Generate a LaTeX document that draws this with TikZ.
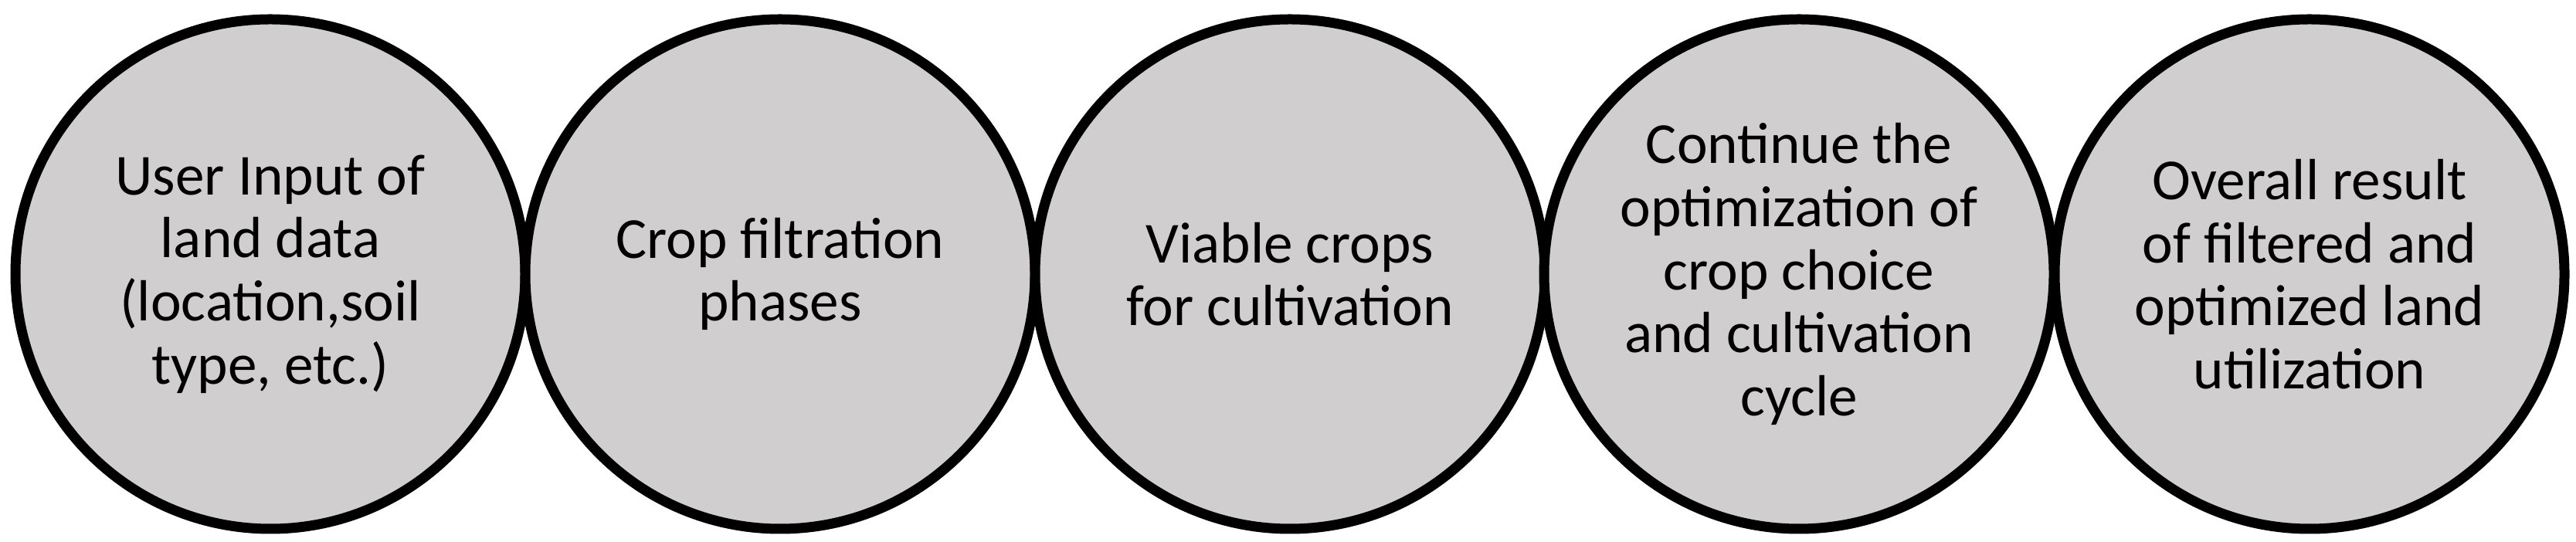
\documentclass[tikz,border=0pt]{standalone}
\usepackage{fontspec}
\setmainfont{Carlito}
\definecolor{cfill}{RGB}{208,206,206}
\begin{document}
\begin{tikzpicture}[
  stage/.style={circle, draw=black, fill=cfill, line width=0.13cm, minimum size=6.6cm,
    inner sep=0pt, align=center, text=black,
    font=\fontsize{21.4pt}{23.2pt}\selectfont}
]
\useasboundingbox (0,0) rectangle (33.35,7.02);
\node[stage] (s1) at (3.50,3.47) {User Input of\\land data\\(location,soil\\type, etc.)};
\node[stage] (s2) at (10.10,3.47) {Crop filtration\\phases};
\node[stage] (s3) at (16.70,3.47) {Viable crops\\for cultivation};
\node[stage] (s4) at (23.29,3.47) {Continue the\\optimization of\\crop choice\\and cultivation\\cycle};
\node[stage] (s5) at (29.90,3.47) {Overall result\\of filtered and\\optimized land\\utilization};
\end{tikzpicture}
\end{document}
